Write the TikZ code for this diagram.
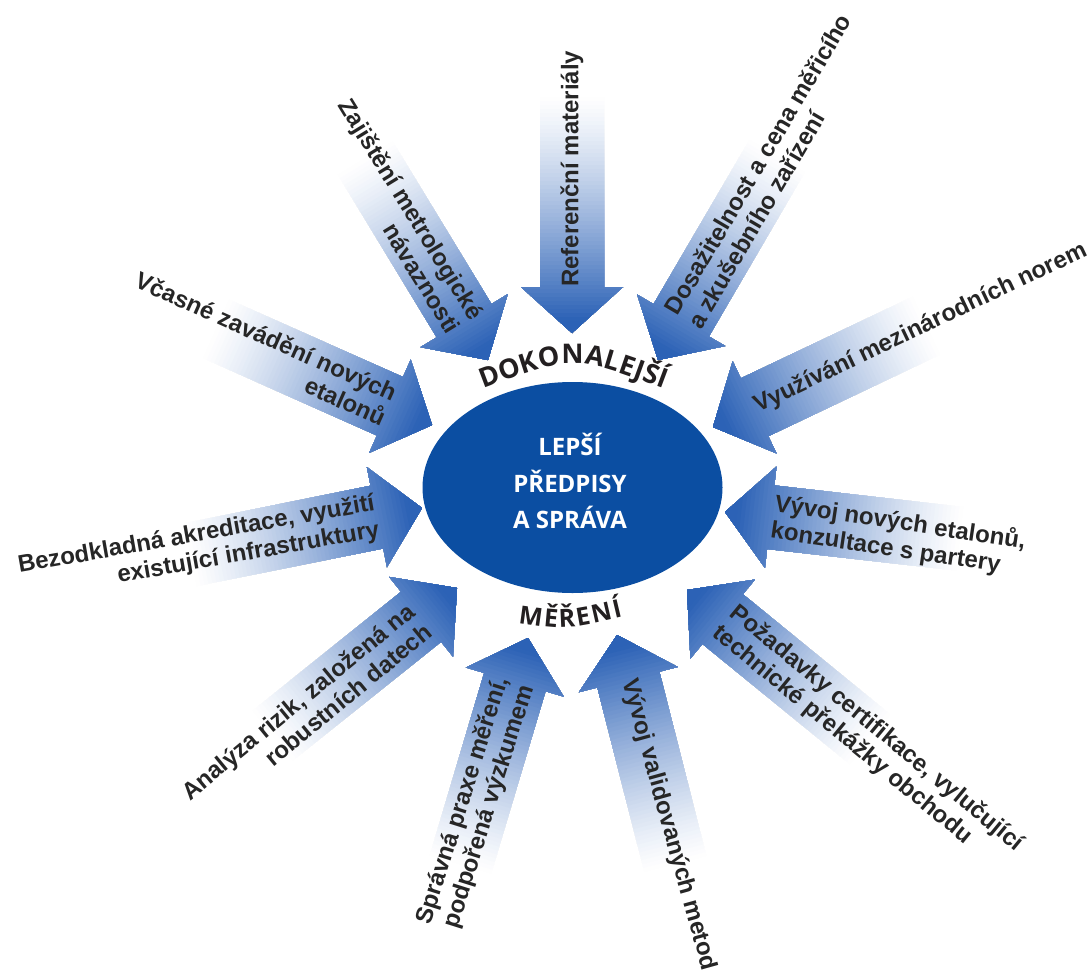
\documentclass[tikz,border=0pt]{standalone}
\usepackage{fontspec}
\setmainfont{Liberation Sans}
\newfontfamily\osans{Open Sans}
\usetikzlibrary{decorations.text,shapes.geometric}
\definecolor{ellblue}{RGB}{11,78,162}
\definecolor{arrowblue}{RGB}{44,98,182}
\definecolor{labelgray}{RGB}{38,38,38}
\definecolor{titlegray}{RGB}{35,31,32}
\newcommand\garrow[3]{%
  \begin{scope}[shift={(#1)},rotate=#2]
    \begin{scope}
      \clip (0,0) -- (-46,51) -- (-46,32) -- (-250,32) -- (-250,-32) -- (-46,-32) -- (-46,-51) -- cycle;
      \foreach \s in {240,236,...,0} {
        \pgfmathsetmacro\p{min(100,max(0,100*((240-\s)/225)^1.25))}
        \fill[arrowblue!\p!white] (-\s-0.1,-55) rectangle (0.5,55);
      }
    \end{scope}
    #3
  \end{scope}}
\begin{document}
\begin{tikzpicture}[x=1pt,y=-1pt,
  lbl/.style={font=\fontsize{24}{27}\selectfont\bfseries, text=labelgray, inner sep=0pt},
  away/.style={lbl, anchor=west, align=left},
  toward/.style={lbl, anchor=east, align=right},
  centertext/.style={font=\osans\bfseries\fontsize{24}{36.5}\selectfont, text=white, align=center, inner sep=0pt}]
\useasboundingbox[fill=white] (0,0) rectangle (1089,974);

% central ellipse
\node[ellipse, fill=ellblue, minimum width=300pt, minimum height=211pt, inner sep=0pt] (core) at (572.5,487.5) {};
\node[centertext] (coretext) at (570,481) {LEPŠÍ\\PŘEDPISY\\A SPRÁVA};

% arrows with labels
\garrow{572,333}{270}{\node[away, rotate=90] (l1) at (-46,0) {Referenční materiály};}
\garrow{658,360}{239.7}{\node[away, rotate=59.5] (l2) at (-47,0) {Dosažitelnost a cena měřicího\\a zkušebního zařízení};}
\garrow{713,427}{205.4}{\node[away, rotate=25.5] (l3) at (-47,0) {Využívání mezinárodních norem};}
\garrow{725,512}{173.5}{\node[away, rotate=-8.5] (l4) at (-48,0) {Vývoj nových etalonů,\\konzultace s partery};}
\garrow{687,590}{140.8}{\node[away, rotate=-39.5] (l5) at (-48,0) {Požadavky certifikace, vylučující\\technické překážky obchodu};}
\garrow{617,635}{104.3}{\node[away, rotate=-74.5] (l6) at (-46,0) {Vývoj validovaných metod};}
\garrow{528,638}{73.4}{\node[toward, rotate=72.5] (l7) at (-46,0) {Správná praxe měření,\\podpořená výzkumem};}
\garrow{457,588}{38.7}{\node[toward, rotate=39.5] (l8) at (-48,0) {Analýza rizik, založená na\\robustních datech};}
\garrow{422,508}{11.4}{\node[toward, rotate=10] (l9) at (-46,0) {Bezodkladná akreditace, využití\\existující infrastruktury};}
\garrow{432,425}{-24}{\node[toward, rotate=-24] (l10) at (-46,0) {Včasné zavádění nových\\etalonů};}
\garrow{488,360}{-58.7}{\node[toward, rotate=-58.5] (l11) at (-42,0) {Zajištění metrologické\\návaznosti};}

% curved captions
\path[decorate, decoration={text along path, text color=titlegray,
  text={|\osans\bfseries\fontsize{27}{30}\selectfont|DOKONALEJŠÍ}, text align={fit to path}}]
  (483,389) .. controls (573,355) .. (664,389);
\path[decorate, decoration={text along path, text color=titlegray,
  text={|\osans\bfseries\fontsize{25}{28}\selectfont|MĚŘENÍ}, text align={fit to path}}]
  (518,623) .. controls (568,630) .. (623,617);
\end{tikzpicture}
\end{document}
